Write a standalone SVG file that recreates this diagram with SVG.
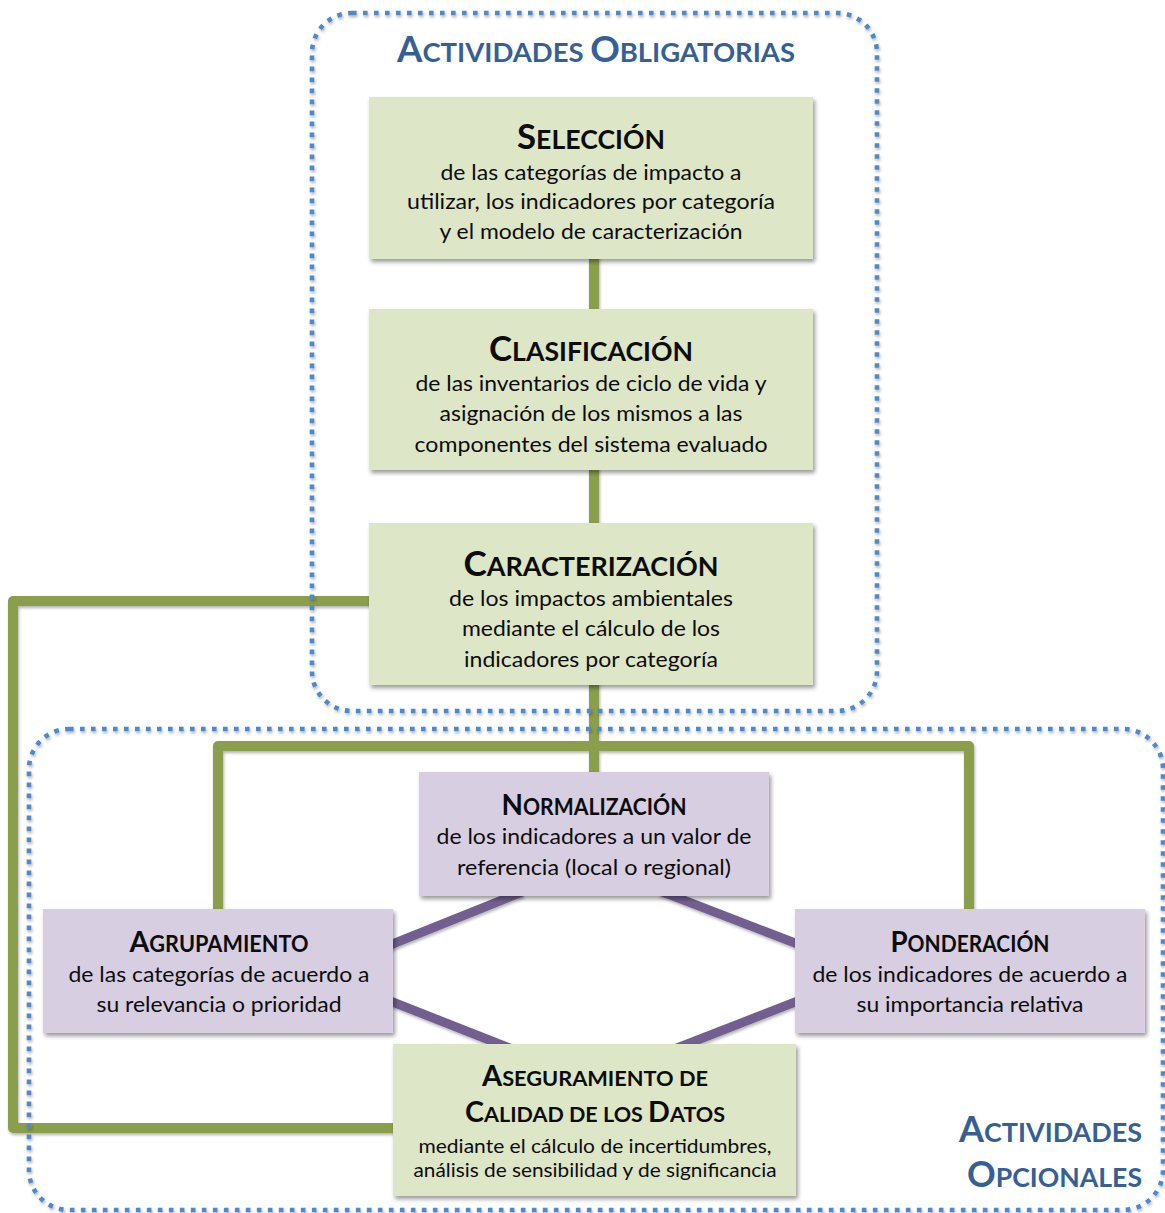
<svg xmlns="http://www.w3.org/2000/svg" width="1165" height="1213" viewBox="0 0 1165 1213">
  <style>
    .green { fill: #dee6c8; }
    .purple { fill: #d7cee1; }
    .frame { fill: none; stroke: #5089c8; stroke-width: 4.6; stroke-dasharray: 4.6 6.4; }
    .link-g { fill: none; stroke: #8a9e4b; stroke-width: 10; stroke-linejoin: round; }
    .link-p { fill: none; stroke: #725f8f; stroke-width: 9; }
    .head { font-family: Lato, "Open Sans", sans-serif; font-weight: bold; fill: #365f93; }
    .ttl { font-family: Lato, "Open Sans", sans-serif; font-weight: bold; fill: #0d0d0d; text-anchor: middle; }
    .body { font-family: Lato, "Open Sans", sans-serif; fill: #0d0d0d; text-anchor: middle; font-size: 21px; }
    .sm { font-size: 20px; }
  </style>
  <defs>
    <filter id="shadow" x="-10%" y="-10%" width="125%" height="130%">
      <feDropShadow dx="2" dy="3" stdDeviation="2.2" flood-color="#000" flood-opacity="0.4"/>
    </filter>
    <filter id="soft" x="-5%" y="-5%" width="110%" height="110%">
      <feDropShadow dx="1" dy="2" stdDeviation="1.5" flood-color="#000" flood-opacity="0.3"/>
    </filter>
  </defs>
  <rect width="1165" height="1213" fill="#ffffff"/>

  <!-- connectors -->
  <g id="connectors" filter="url(#soft)">
    <line class="link-g" x1="594" y1="250" x2="594" y2="780"/>
    <path class="link-g" d="M218,915 V746 H969 V915"/>
    <path class="link-g" d="M375,601 H13 V1128 H400"/>
    <line class="link-p" x1="380" y1="949" x2="522" y2="892"/>
    <line class="link-p" x1="660" y1="891" x2="808" y2="948"/>
    <line class="link-p" x1="380" y1="997" x2="512" y2="1049"/>
    <line class="link-p" x1="677" y1="1048" x2="808" y2="997"/>
  </g>

  <!-- group frames -->
  <g id="frame-obligatorias" filter="url(#soft)">
    <rect class="frame" x="312" y="13" width="565" height="698" rx="40"/>
  </g>
  <g id="frame-opcionales" filter="url(#soft)">
    <rect class="frame" x="29" y="729" width="1134" height="481" rx="40"/>
  </g>

  <g id="title-obligatorias">
    <text class="head" x="596" y="62" text-anchor="middle" textLength="398" lengthAdjust="spacingAndGlyphs"><tspan font-size="36">A</tspan><tspan font-size="27">CTIVIDADES </tspan><tspan font-size="36">O</tspan><tspan font-size="27">BLIGATORIAS</tspan></text>
  </g>
  <g id="title-opcionales">
    <text class="head" x="1142" y="1142" text-anchor="end" textLength="183" lengthAdjust="spacingAndGlyphs"><tspan font-size="36">A</tspan><tspan font-size="27">CTIVIDADES</tspan></text>
    <text class="head" x="1142" y="1187" text-anchor="end" textLength="175" lengthAdjust="spacingAndGlyphs"><tspan font-size="36">O</tspan><tspan font-size="27">PCIONALES</tspan></text>
  </g>

  <!-- mandatory steps -->
  <g id="seleccion">
    <rect class="green" x="369" y="97" width="444" height="162" filter="url(#shadow)"/>
    <text class="ttl" x="591" y="149" textLength="148" lengthAdjust="spacingAndGlyphs"><tspan font-size="34">S</tspan><tspan font-size="26">ELECCIÓN</tspan></text>
    <text class="body" x="591" y="180" textLength="301" lengthAdjust="spacingAndGlyphs">de las categorías de impacto a</text>
    <text class="body" x="591" y="209" textLength="368" lengthAdjust="spacingAndGlyphs">utilizar, los indicadores por categoría</text>
    <text class="body" x="591" y="239" textLength="303" lengthAdjust="spacingAndGlyphs">y el modelo de caracterización</text>
  </g>
  <g id="clasificacion">
    <rect class="green" x="369" y="309" width="444" height="161" filter="url(#shadow)"/>
    <text class="ttl" x="591" y="361" textLength="204" lengthAdjust="spacingAndGlyphs"><tspan font-size="34">C</tspan><tspan font-size="26">LASIFICACIÓN</tspan></text>
    <text class="body" x="591" y="391" textLength="351" lengthAdjust="spacingAndGlyphs">de las inventarios de ciclo de vida y</text>
    <text class="body" x="591" y="421" textLength="303" lengthAdjust="spacingAndGlyphs">asignación de los mismos a las</text>
    <text class="body" x="591" y="452" textLength="353" lengthAdjust="spacingAndGlyphs">componentes del sistema evaluado</text>
  </g>
  <g id="caracterizacion">
    <rect class="green" x="369" y="523" width="444" height="162" filter="url(#shadow)"/>
    <text class="ttl" x="591" y="576" textLength="255" lengthAdjust="spacingAndGlyphs"><tspan font-size="34">C</tspan><tspan font-size="26">ARACTERIZACIÓN</tspan></text>
    <text class="body" x="591" y="606" textLength="284" lengthAdjust="spacingAndGlyphs">de los impactos ambientales</text>
    <text class="body" x="591" y="636" textLength="258" lengthAdjust="spacingAndGlyphs">mediante el cálculo de los</text>
    <text class="body" x="591" y="667" textLength="254" lengthAdjust="spacingAndGlyphs">indicadores por categoría</text>
  </g>

  <!-- optional steps -->
  <g id="normalizacion">
    <rect class="purple" x="419" y="772" width="350" height="124" filter="url(#shadow)"/>
    <text class="ttl" x="594" y="815" textLength="185" lengthAdjust="spacingAndGlyphs"><tspan font-size="29">N</tspan><tspan font-size="22">ORMALIZACIÓN</tspan></text>
    <text class="body" x="594" y="844" textLength="315" lengthAdjust="spacingAndGlyphs">de los indicadores a un valor de</text>
    <text class="body" x="594" y="875" textLength="274" lengthAdjust="spacingAndGlyphs">referencia (local o regional)</text>
  </g>
  <g id="agrupamiento">
    <rect class="purple" x="43" y="909" width="350" height="124" filter="url(#shadow)"/>
    <text class="ttl" x="219" y="952" textLength="179" lengthAdjust="spacingAndGlyphs"><tspan font-size="29">A</tspan><tspan font-size="22">GRUPAMIENTO</tspan></text>
    <text class="body" x="219" y="982" textLength="301" lengthAdjust="spacingAndGlyphs">de las categorías de acuerdo a</text>
    <text class="body" x="219" y="1012" textLength="245" lengthAdjust="spacingAndGlyphs">su relevancia o prioridad</text>
  </g>
  <g id="ponderacion">
    <rect class="purple" x="795" y="909" width="350" height="124" filter="url(#shadow)"/>
    <text class="ttl" x="970" y="952" textLength="159" lengthAdjust="spacingAndGlyphs"><tspan font-size="29">P</tspan><tspan font-size="22">ONDERACIÓN</tspan></text>
    <text class="body" x="970" y="982" textLength="315" lengthAdjust="spacingAndGlyphs">de los indicadores de acuerdo a</text>
    <text class="body" x="970" y="1012" textLength="227" lengthAdjust="spacingAndGlyphs">su importancia relativa</text>
  </g>
  <g id="aseguramiento">
    <rect class="green" x="393" y="1044" width="403" height="152" filter="url(#shadow)"/>
    <text class="ttl" x="595" y="1086" textLength="226" lengthAdjust="spacingAndGlyphs"><tspan font-size="28">A</tspan><tspan font-size="21">SEGURAMIENTO DE</tspan></text>
    <text class="ttl" x="595" y="1122" textLength="260" lengthAdjust="spacingAndGlyphs"><tspan font-size="28">C</tspan><tspan font-size="21">ALIDAD DE LOS </tspan><tspan font-size="28">D</tspan><tspan font-size="21">ATOS</tspan></text>
    <text class="body sm" x="595" y="1153" textLength="353" lengthAdjust="spacingAndGlyphs">mediante el cálculo de incertidumbres,</text>
    <text class="body sm" x="595" y="1177" textLength="363" lengthAdjust="spacingAndGlyphs">análisis de sensibilidad y de significancia</text>
  </g>
</svg>
